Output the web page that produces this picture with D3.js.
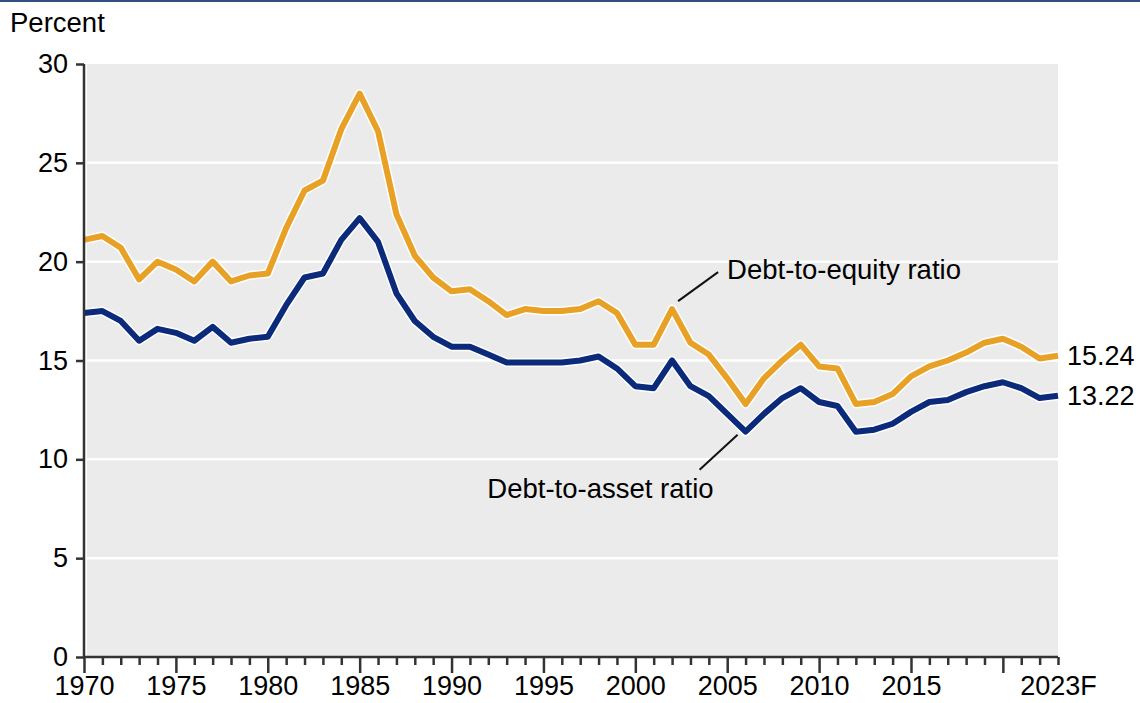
<!DOCTYPE html>
<html>
<head>
<meta charset="utf-8">
<script src="https://cdn.jsdelivr.net/npm/d3@7"></script>
<style>
  body { margin: 0; background: #fff; }
  svg { display: block; font-family: "Liberation Sans", Arial, sans-serif; }
  .axis path, .axis line { stroke: #333; stroke-width: 2.5; }
  .axis text { font-size: 27px; fill: #000; font-family: "Liberation Sans", Arial, sans-serif; }
</style>
</head>
<body>
<div id="chart"></div>
<script>
// years 1970 .. 2023 (2023 is a forecast)
var years = d3.range(1970, 2024);

var debtToEquity = [
  21.1, 21.3, 20.7, 19.1, 20.0, 19.6, 19.0, 20.0, 19.0, 19.3,
  19.4, 21.7, 23.6, 24.1, 26.7, 28.5, 26.6, 22.4, 20.3, 19.2,
  18.5, 18.6, 18.0, 17.3, 17.6, 17.5, 17.5, 17.6, 18.0, 17.4,
  15.8, 15.8, 17.6, 15.9, 15.3, 14.1, 12.8, 14.1, 15.0, 15.8,
  14.7, 14.6, 12.8, 12.9, 13.3, 14.2, 14.7, 15.0, 15.4, 15.9,
  16.1, 15.7, 15.1, 15.24
];

var debtToAsset = [
  17.4, 17.5, 17.0, 16.0, 16.6, 16.4, 16.0, 16.7, 15.9, 16.1,
  16.2, 17.8, 19.2, 19.4, 21.1, 22.2, 21.0, 18.4, 17.0, 16.2,
  15.7, 15.7, 15.3, 14.9, 14.9, 14.9, 14.9, 15.0, 15.2, 14.6,
  13.7, 13.6, 15.0, 13.7, 13.2, 12.3, 11.4, 12.3, 13.1, 13.6,
  12.9, 12.7, 11.4, 11.5, 11.8, 12.4, 12.9, 13.0, 13.4, 13.7,
  13.9, 13.6, 13.1, 13.22
];

var yTicks = [0, 5, 10, 15, 20, 25, 30];
var majorYears = [1970, 1975, 1980, 1985, 1990, 1995, 2000, 2005, 2010, 2015, 2020];
var xLabels = {1970: "1970", 1975: "1975", 1980: "1980", 1985: "1985", 1990: "1990",
  1995: "1995", 2000: "2000", 2005: "2005", 2010: "2010", 2015: "2015", 2023: "2023F"};

var W = 1140, H = 703;
var margin = {top: 64, right: 82, bottom: 46, left: 84},
    width = W - margin.left - margin.right,
    height = H - margin.top - margin.bottom;

var svgRoot = d3.select("#chart").append("svg")
    .attr("width", W)
    .attr("height", H);

// thin frame line along the top edge
svgRoot.append("rect").attr("x", 0).attr("y", 0).attr("width", W).attr("height", 2).attr("fill", "#2f4f7f");

var svg = svgRoot.append("g")
    .attr("transform", "translate(" + margin.left + "," + margin.top + ")");

var x = d3.scaleLinear().domain([1970, 2023]).range([0, width]);
var y = d3.scaleLinear().domain([0, 30]).range([height, 0]);

// plot background
svg.append("rect")
    .attr("x", 3)
    .attr("y", 0)
    .attr("width", width - 3)
    .attr("height", height)
    .attr("fill", "#ebebeb");

// gridlines
svg.selectAll(".grid")
    .data(yTicks.filter(function(d) { return d > 0 && d < 30; }))
  .enter().append("line")
    .attr("class", "grid")
    .attr("x1", 3).attr("x2", width)
    .attr("y1", function(d) { return y(d); })
    .attr("y2", function(d) { return y(d); })
    .attr("stroke", "#fff")
    .attr("stroke-width", 2.5);

// lines
var line = d3.line()
    .x(function(d, i) { return x(years[i]); })
    .y(function(d) { return y(d); });

[[debtToEquity, "#e8a127"], [debtToAsset, "#0b2a7a"]].forEach(function(s) {
  svg.append("path")
      .datum(s[0])
      .attr("fill", "none")
      .attr("stroke", "#fff")
      .attr("stroke-width", 9)
      .attr("stroke-linejoin", "round")
      .attr("d", line);
  svg.append("path")
      .datum(s[0])
      .attr("fill", "none")
      .attr("stroke", s[1])
      .attr("stroke-width", 6)
      .attr("stroke-linejoin", "round")
      .attr("d", line);
});

// Y axis
var yAxis = svg.append("g")
    .attr("class", "axis")
    .call(d3.axisLeft(y).tickValues(yTicks).tickSize(8).tickPadding(8).tickSizeOuter(0));
yAxis.select(".domain").remove();
yAxis.append("line").attr("x1", 0).attr("x2", 0).attr("y1", 0).attr("y2", height)
    .attr("stroke", "#333").attr("stroke-width", 2.5);

// X axis
var xAxis = svg.append("g")
    .attr("class", "axis")
    .attr("transform", "translate(0," + height + ")")
    .call(d3.axisBottom(x)
      .tickValues(years)
      .tickSize(8)
      .tickSizeOuter(0)
      .tickPadding(11)
      .tickFormat(function(d) { return xLabels[d] || ""; }));
xAxis.select(".domain").remove();
xAxis.append("line").attr("x1", 0).attr("x2", width).attr("y1", 0).attr("y2", 0)
    .attr("stroke", "#333").attr("stroke-width", 2.5);
xAxis.selectAll(".tick line")
    .attr("y2", function(d) { return majorYears.indexOf(d) >= 0 ? 16 : 8; })
    .attr("stroke-width", 2.2);

// "Percent" label
svgRoot.append("text")
    .attr("x", 10).attr("y", 32)
    .attr("font-size", 27.5)
    .attr("fill", "#000")
    .text("Percent");

// end value labels
svg.append("text")
    .attr("x", width + 9).attr("y", y(debtToEquity[debtToEquity.length - 1]))
    .attr("dy", "0.35em")
    .attr("font-size", 27).attr("fill", "#000")
    .text("15.24");
svg.append("text")
    .attr("x", width + 9).attr("y", y(debtToAsset[debtToAsset.length - 1]))
    .attr("dy", "0.35em")
    .attr("font-size", 27).attr("fill", "#000")
    .text("13.22");

// annotations
var eqYear = 2002, asYear = 2006;
svg.append("line")
    .attr("x1", x(eqYear) + 6).attr("y1", y(debtToEquity[eqYear - 1970]) - 8)
    .attr("x2", x(eqYear) + 46).attr("y2", y(debtToEquity[eqYear - 1970]) - 37)
    .attr("stroke", "#111").attr("stroke-width", 2);
svg.append("text")
    .attr("x", x(eqYear) + 55).attr("y", y(debtToEquity[eqYear - 1970]) - 40)
    .attr("dy", "0.35em")
    .attr("font-size", 27.5).attr("fill", "#000")
    .text("Debt-to-equity ratio");

svg.append("line")
    .attr("x1", x(asYear) - 8).attr("y1", y(debtToAsset[asYear - 1970]) + 3)
    .attr("x2", x(asYear) - 46).attr("y2", y(debtToAsset[asYear - 1970]) + 38)
    .attr("stroke", "#111").attr("stroke-width", 2);
svg.append("text")
    .attr("x", x(asYear) - 32).attr("y", y(debtToAsset[asYear - 1970]) + 57)
    .attr("dy", "0.35em")
    .attr("text-anchor", "end")
    .attr("font-size", 27.5).attr("fill", "#000")
    .text("Debt-to-asset ratio");
</script>
</body>
</html>
